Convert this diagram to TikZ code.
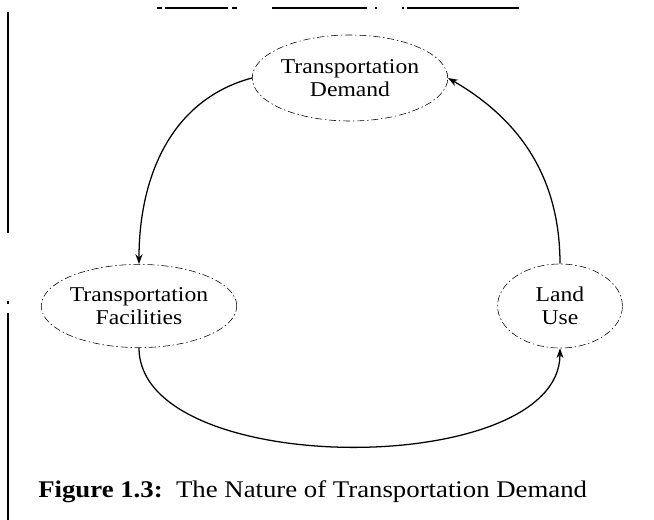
\documentclass[tikz,border=0pt]{standalone}
\usepackage{fontspec}
\setmainfont[FakeStretch=1.12]{Liberation Serif}
\usetikzlibrary{arrows.meta, shapes.geometric}

\begin{document}
\begin{tikzpicture}[x=0.025cm, y=-0.025cm,
  oval/.style = {shape=ellipse, draw, thin, align=center,
    dash pattern=on 5pt off 2pt on 1pt off 2pt,
    inner sep=0pt, font=\fontsize{15}{16}\selectfont},
  flow/.style = {line width=0.9pt, -{Stealth[length=7pt, width=5pt]}},
  rule/.style = {line width=1.3pt}]
  \useasboundingbox (0,0) rectangle (654,520);

  % scan edges
  \draw[rule] (157,8) -- (162,8) (165,8) -- (228,8) (232,8) -- (237,8)
              (272,8) -- (367,8) (375,8) -- (377,8)
              (402,8) -- (404,8) (407,8) -- (519,8);
  \draw[line width=1pt] (8,12) -- (8,233) (8,301) -- (8,304) (8,313) -- (8,520);

  \node[oval, minimum width=4.15cm, minimum height=2.15cm]
    (demand) at (350,78) {Transportation\\Demand};
  \node[oval, minimum width=4.18cm, minimum height=2.08cm]
    (facilities) at (139,306) {Transportation\\Facilities};
  \node[oval, minimum width=3.12cm, minimum height=2.1cm]
    (landuse) at (560,306) {Land\\Use};

  \draw[flow] (demand.west) to[out=195, in=90] (facilities.north);
  \draw[flow] (facilities.south) to[out=-90, in=-90, looseness=0.8] (landuse.south);
  \draw[flow] (landuse.north) to[out=90, in=-30] (demand.east);

  \node[anchor=base west, inner sep=0pt, font=\fontsize{17}{20}\selectfont]
    (caption) at (38,497) {\textbf{Figure 1.3:}\ \ The Nature of Transportation Demand};
\end{tikzpicture}
\end{document}
